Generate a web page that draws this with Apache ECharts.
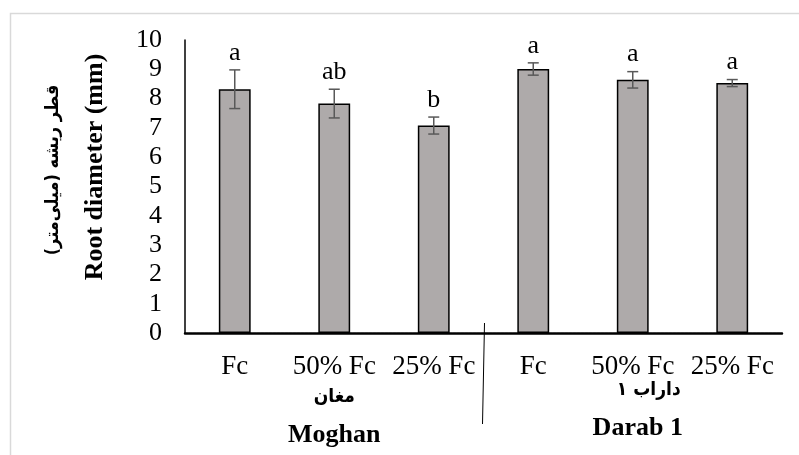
<!DOCTYPE html>
<html>
<head>
<meta charset="utf-8">
<script src="https://cdn.jsdelivr.net/npm/echarts@6/dist/echarts.min.js"></script>
<style>
html,body{margin:0;padding:0;background:#fff;}
#chart{width:799px;height:455px;}
</style>
</head>
<body>
<div id="chart"></div>
<script>
// ---- data ----
const categories = ['Fc', '50% Fc', '25% Fc', 'Fc', '50% Fc', '25% Fc'];
const means = [8.32, 7.83, 7.08, 9.01, 8.64, 8.53];
const errors = [0.66, 0.49, 0.29, 0.21, 0.28, 0.12];
const letters = ['a', 'ab', 'b', 'a', 'a', 'a'];
const groupNames = ['Moghan', 'Darab 1'];
const groupNamesFa = ['مغان', 'داراب ۱'];
const yTitle = 'Root diameter (mm)';
const yTitleFa = 'قطر ریشه (میلی‌متر)';
const yMin = 0, yMax = 10, yInterval = 1;

const serif = '"Liberation Serif", "Times New Roman", serif';
const faFont = '"DejaVu Sans Condensed", "DejaVu Sans", sans-serif';

const chart = echarts.init(document.getElementById('chart'), null, {renderer: 'canvas'});

const option = {
  animation: false,
  backgroundColor: '#fff',
  grid: {left: 185, right: 17, top: 40, bottom: 122, containLabel: false},
  xAxis: [
    {
      type: 'category',
      data: categories,
      axisLine: {show: true, lineStyle: {color: '#000', width: 2.5, type: [3, 1]}},
      axisTick: {show: false},
      axisLabel: {color: '#000', fontFamily: serif, fontSize: 27, margin: 20, interval: 0}
    },
    {
      type: 'category',
      data: groupNames,
      position: 'bottom',
      axisLine: {show: false},
      axisTick: {show: false},
      axisLabel: {
        interval: 0,
        margin: 44,
        formatter: function (v, i) {
          return i === 0
            ? '{fa|' + groupNamesFa[i] + '}\n{en|' + v + '}'
            : '{fa2|' + groupNamesFa[i] + '}\n{en2|' + v + '}';
        },
        rich: {
          fa: {fontFamily: faFont, fontSize: 19, fontWeight: 'bold', color: '#000', lineHeight: 40},
          en: {fontFamily: serif, fontSize: 26, fontWeight: 'bold', color: '#000', lineHeight: 36},
          fa2: {fontFamily: faFont, fontSize: 19, fontWeight: 'bold', color: '#000', lineHeight: 26, padding: [0, 0, 0, 32]},
          en2: {fontFamily: serif, fontSize: 26, fontWeight: 'bold', color: '#000', lineHeight: 50, padding: [0, 0, 0, 10]}
        }
      }
    }
  ],
  yAxis: {
    type: 'value',
    min: yMin, max: yMax, interval: yInterval,
    axisLine: {show: true, lineStyle: {color: '#000', width: 1.5}},
    axisTick: {show: false},
    splitLine: {show: false},
    axisLabel: {color: '#000', fontFamily: serif, fontSize: 26, margin: 23}
  },
  series: [
    {
      type: 'bar',
      data: means,
      barWidth: '32%',
      itemStyle: {color: '#aeaaaa', borderColor: '#000', borderWidth: 1.5},
      z: 2
    },
    {
      type: 'custom',
      data: means.map(function (m, i) { return [i, m, errors[i]]; }),
      z: 5,
      renderItem: function (params, api) {
        const x = api.value(0), m = api.value(1), e = api.value(2);
        const top = api.coord([x, m + e]);
        const bot = api.coord([x, m - e]);
        const cap = 5.5;
        const st = {stroke: '#595959', lineWidth: 1.5};
        return {
          type: 'group',
          children: [
            {type: 'line', shape: {x1: top[0], y1: top[1], x2: bot[0], y2: bot[1]}, style: st},
            {type: 'line', shape: {x1: top[0] - cap, y1: top[1], x2: top[0] + cap, y2: top[1]}, style: st},
            {type: 'line', shape: {x1: bot[0] - cap, y1: bot[1], x2: bot[0] + cap, y2: bot[1]}, style: st},
            {type: 'text', x: top[0], y: top[1] - 4,
              style: {text: letters[params.dataIndex], font: '26px ' + serif, fill: '#000',
                align: 'center', verticalAlign: 'bottom', textAlign: 'center', textVerticalAlign: 'bottom'}}
          ]
        };
      }
    }
  ]
};
chart.setOption(option);

// decorations: frame, y titles, group separator
const mid = (chart.convertToPixel({xAxisIndex: 0}, 2) + chart.convertToPixel({xAxisIndex: 0}, 3)) / 2;
const y0 = chart.convertToPixel({yAxisIndex: 0}, yMin);
chart.setOption({
  graphic: [
    {type: 'rect', silent: true, z: -10, shape: {x: 10.5, y: 13.5, width: 900, height: 600},
      style: {fill: 'none', stroke: '#d9d9d9', lineWidth: 1.5}},
    {type: 'text', x: 95, y: 167, rotation: Math.PI / 2,
      style: {text: yTitle, font: 'bold 26px ' + serif, fill: '#000', align: 'center', verticalAlign: 'middle'}},
    {type: 'text', x: 53, y: 170, rotation: Math.PI / 2,
      style: {text: yTitleFa, font: 'bold 18px ' + faFont, fill: '#000', align: 'center', verticalAlign: 'middle'}},
    {type: 'line', shape: {x1: mid + 1, y1: y0 - 10, x2: mid - 1, y2: 424},
      style: {stroke: '#000', lineWidth: 1}}
  ]
});
</script>
</body>
</html>
